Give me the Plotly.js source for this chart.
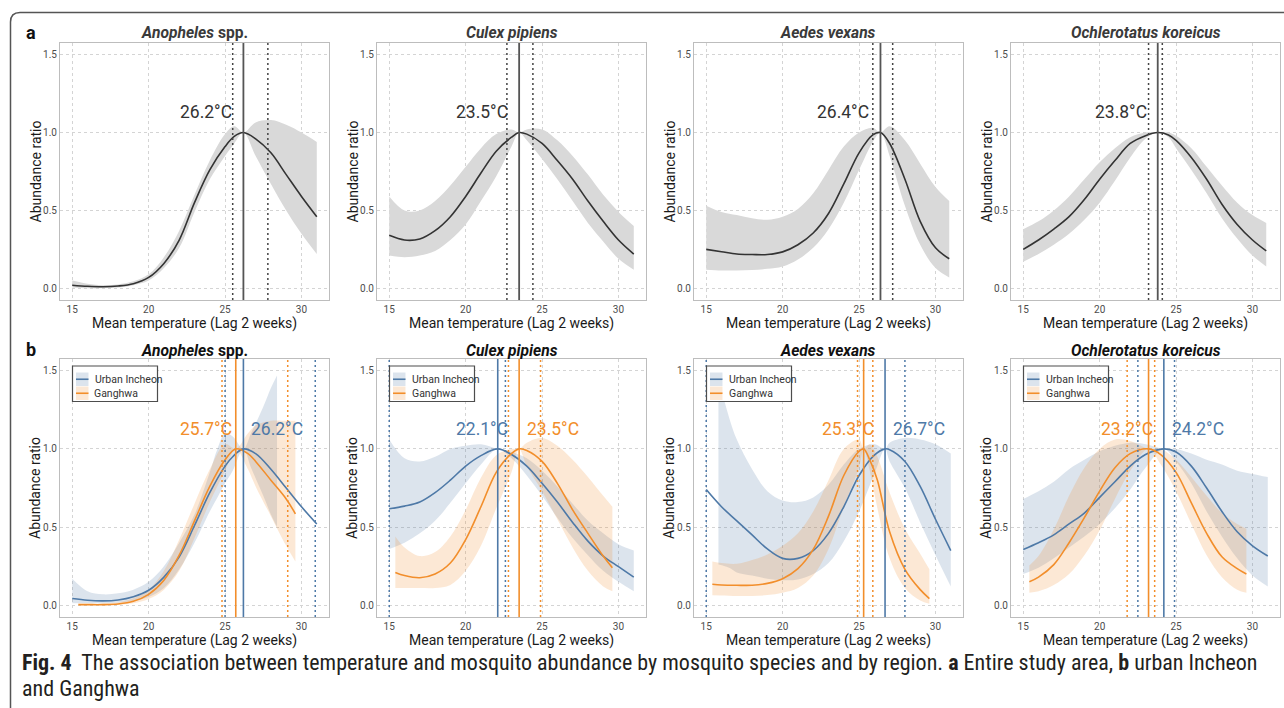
<!DOCTYPE html>
<html><head><meta charset="utf-8">
<script src="https://cdn.plot.ly/plotly-3.0.1.min.js"></script>
<style>body{margin:0;background:#fff}</style>
</head><body><div id="chart" style="width:1284px;height:708px"></div>
<script>
// ---------------- DATA ----------------
const tempTicks = [15, 20, 25, 30];
const ratioTicks = [0, 0.5, 1, 1.5];
const ratioTickText = ['0.0', '0.5', '1.0', '1.5'];
const speciesTitles = ['<b><i>Anopheles</i> spp.</b>', '<b><i>Culex pipiens</i></b>', '<b><i>Aedes vexans</i></b>', '<b><i>Ochlerotatus koreicus</i></b>'];
const regionNames = ['Urban Incheon', 'Ganghwa'];
const xTitle = 'Mean temperature (Lag 2 weeks)';
const yTitle = 'Abundance ratio';

// (a) entire study area
const anoAllX   = [15,16,17,18,19,20,21,22,23,24,25,25.6,26.2,27,28,29,30,31];
const anoAllFit = [0.02,0.013,0.01,0.015,0.03,0.07,0.16,0.31,0.55,0.76,0.91,0.975,1.0,0.96,0.87,0.73,0.59,0.46];
const anoAllHi  = [0.05,0.03,0.02,0.025,0.045,0.09,0.2,0.37,0.6,0.82,0.99,1.04,1.0,1.065,1.08,1.05,1.0,0.94];
const anoAllLo  = [0.005,0.0,0.0,0.005,0.02,0.05,0.13,0.26,0.49,0.7,0.85,0.93,1.0,0.85,0.67,0.5,0.35,0.22];
const anoAllOpt = 26.2, anoAllCI = [25.5, 27.8];

const culAllX   = [15,16,17,18,19,20,21,22,23,23.5,24,25,26,27,28,29,30,31];
const culAllFit = [0.34,0.31,0.317,0.37,0.46,0.59,0.74,0.88,0.97,1.0,0.99,0.93,0.82,0.70,0.56,0.43,0.31,0.22];
const culAllHi  = [0.59,0.50,0.50,0.56,0.66,0.78,0.90,0.99,1.02,1.0,1.02,1.02,0.95,0.85,0.73,0.60,0.49,0.40];
const culAllLo  = [0.21,0.20,0.21,0.24,0.31,0.41,0.56,0.72,0.91,1.0,0.95,0.83,0.70,0.56,0.42,0.30,0.19,0.12];
const culAllOpt = 23.5, culAllCI = [22.7, 24.4];

const aedAllX   = [15,16,17,18,19,20,21,22,23,24,25,25.9,26.4,27,28,29,30,30.9];
const aedAllFit = [0.25,0.235,0.22,0.217,0.217,0.234,0.28,0.355,0.48,0.67,0.87,0.985,1.0,0.93,0.70,0.43,0.26,0.19];
const aedAllHi  = [0.53,0.49,0.47,0.45,0.44,0.46,0.51,0.61,0.76,0.91,1.0,1.03,1.0,1.04,0.95,0.80,0.65,0.56];
const aedAllLo  = [0.12,0.115,0.115,0.117,0.125,0.14,0.185,0.26,0.38,0.55,0.76,0.94,1.0,0.85,0.53,0.28,0.13,0.07];
const aedAllOpt = 26.4, aedAllCI = [25.9, 27.2];

const ochAllX   = [15,16,17,18,19,20,21,22,23,23.8,24.5,25,26,27,28,29,30,30.9];
const ochAllFit = [0.25,0.31,0.38,0.46,0.57,0.70,0.82,0.93,0.98,1.0,0.985,0.95,0.84,0.70,0.54,0.41,0.31,0.24];
const ochAllHi  = [0.38,0.43,0.50,0.59,0.70,0.81,0.90,0.97,1.0,1.0,1.0,0.98,0.90,0.78,0.66,0.55,0.47,0.42];
const ochAllLo  = [0.17,0.22,0.28,0.35,0.44,0.55,0.69,0.84,0.96,1.0,0.97,0.90,0.76,0.61,0.45,0.32,0.21,0.14];
const ochAllOpt = 23.8, ochAllCI = [23.2, 24.1];

// (b) urban Incheon (U) and Ganghwa (G)
const anoUX    = [15,16,17,18,19,20,21,22,23,24,25,25.5,26.2,27,28,29,30,31];
const anoUFit  = [0.043,0.032,0.028,0.034,0.055,0.096,0.18,0.31,0.51,0.72,0.89,0.95,1.0,0.97,0.87,0.75,0.63,0.52];
const anoUBandX= [15,16,17,18,19,20,21,22,23,24,24.5,25,25.5,26.2,26.7,27.5,28,28.4];
const anoUHi   = [0.17,0.09,0.07,0.077,0.10,0.15,0.25,0.40,0.58,0.85,1.0,1.1,1.08,1.0,1.1,1.27,1.39,1.47];
const anoULo   = [0.013,0.013,0.013,0.017,0.028,0.053,0.11,0.23,0.40,0.60,0.69,0.78,0.86,1.0,0.88,0.70,0.58,0.5];
const anoUOpt = 26.2, anoUCI = [25.0, 30.9];
const anoGX    = [15.4,16,17,18,19,20,21,22,23,24,25,25.7,26.5,27,28,29,29.6];
const anoGFit  = [0.004,0.004,0.004,0.008,0.025,0.07,0.16,0.32,0.54,0.76,0.93,1.0,0.97,0.92,0.80,0.68,0.585];
const anoGHi   = [0.01,0.01,0.012,0.02,0.045,0.10,0.22,0.42,0.65,0.87,1.03,1.0,1.1,1.15,1.18,1.18,1.18];
const anoGLo   = [0.0,0.0,0.0,0.003,0.013,0.04,0.10,0.22,0.43,0.66,0.86,1.0,0.87,0.76,0.57,0.38,0.28];
const anoGOpt = 25.7, anoGCI = [24.8, 29.1];

const culUX    = [15,16,17,18,19,20,21,22.1,23,24,25,26,27,28,29,30,31];
const culUFit  = [0.617,0.634,0.66,0.72,0.80,0.89,0.957,1.0,0.964,0.89,0.78,0.66,0.53,0.41,0.315,0.247,0.18];
const culUHi   = [1.06,0.94,0.92,0.95,1.0,1.02,1.03,1.0,0.98,0.94,0.86,0.76,0.65,0.54,0.46,0.39,0.35];
const culULo   = [0.36,0.40,0.46,0.54,0.655,0.78,0.90,1.0,0.94,0.83,0.70,0.56,0.43,0.32,0.22,0.15,0.09];
const culUOpt = 22.1, culUCI = [15.0, 22.6];
const culGX    = [15.4,16,17,18,19,20,21,22,23,23.5,24,25,26,27,28,29,29.6];
const culGFit  = [0.21,0.19,0.176,0.20,0.27,0.42,0.63,0.85,0.97,1.0,0.99,0.92,0.78,0.61,0.46,0.315,0.24];
const culGHi   = [0.44,0.37,0.315,0.34,0.44,0.61,0.815,0.96,1.0,1.0,1.04,1.07,1.02,0.93,0.82,0.70,0.63];
const culGLo   = [0.11,0.11,0.11,0.11,0.13,0.22,0.38,0.62,0.85,1.0,0.89,0.73,0.55,0.37,0.22,0.12,0.09];
const culGOpt = 23.5, culGCI = [22.8, 24.9];

const aedUX    = [15,16,17,18,19,20,21,22,23,24,25,26,26.7,27,28,29,30,31];
const aedUFit  = [0.74,0.63,0.54,0.45,0.36,0.30,0.30,0.35,0.46,0.63,0.83,0.96,1.0,0.995,0.92,0.76,0.55,0.35];
const aedUBandX= [15.8,16.5,17,18,19,20,21,22,23,24,25,26,26.7,27,28,29,30,31];
const aedUHi   = [1.45,1.2,1.06,0.87,0.73,0.67,0.66,0.69,0.77,0.90,1.0,1.03,1.0,1.04,1.07,1.06,1.03,0.97];
const aedULo   = [0.26,0.24,0.21,0.19,0.17,0.16,0.165,0.2,0.27,0.41,0.60,0.84,1.0,0.92,0.75,0.53,0.32,0.12];
const aedUOpt = 26.7, aedUCI = [15.0, 28.0];
const aedGX    = [15.4,16,17,18,19,20,21,22,23,24,25,25.3,25.7,26.2,27,28,29,29.6];
const aedGFit  = [0.134,0.13,0.128,0.128,0.14,0.17,0.234,0.357,0.57,0.83,0.985,1.0,0.93,0.80,0.47,0.23,0.10,0.043];
const aedGHi   = [0.28,0.27,0.265,0.29,0.325,0.38,0.46,0.60,0.80,1.0,1.06,1.0,1.03,0.95,0.72,0.49,0.33,0.23];
const aedGLo   = [0.064,0.063,0.06,0.06,0.065,0.08,0.11,0.19,0.36,0.63,0.88,1.0,0.86,0.62,0.30,0.11,0.03,0.01];
const aedGOpt = 25.3, aedGCI = [24.9, 25.9];

const ochUX    = [15,16,17,18,19,20,21,22,23,24.2,25,26,27,28,29,30,31];
const ochUFit  = [0.357,0.40,0.45,0.52,0.59,0.69,0.79,0.89,0.964,1.0,0.98,0.89,0.75,0.60,0.47,0.38,0.315];
const ochUHi   = [0.68,0.73,0.79,0.87,0.93,0.985,1.02,1.04,1.03,1.0,1.0,0.97,0.93,0.90,0.86,0.84,0.82];
const ochULo   = [0.20,0.24,0.30,0.37,0.44,0.52,0.62,0.74,0.88,1.0,0.92,0.78,0.60,0.44,0.30,0.19,0.12];
const ochUOpt = 24.2, ochUCI = [22.5, 24.9];
const ochGX    = [15.4,16,17,18,19,20,21,22,23.2,24,25,26,27,28,29,29.6];
const ochGFit  = [0.15,0.18,0.26,0.40,0.56,0.73,0.88,0.97,1.0,0.964,0.85,0.655,0.46,0.31,0.234,0.20];
const ochGHi   = [0.255,0.315,0.485,0.70,0.88,1.0,1.06,1.05,1.0,1.0,0.93,0.82,0.70,0.59,0.52,0.49];
const ochGLo   = [0.08,0.09,0.13,0.20,0.32,0.48,0.68,0.86,1.0,0.9,0.73,0.52,0.32,0.18,0.10,0.08];
const ochGOpt = 23.2, ochGCI = [21.8, 23.6];

// ---------------- BUILD ----------------
const W = 1284, H = 708;
const px = v => v / W, py = v => 1 - v / H;
const colsPx = [[60, 329], [377, 646], [694, 963], [1011, 1280]];
const rowsPx = [[43, 300], [359, 617]];
const BLUE = '#4e79a7', ORANGE = '#f28e2b';
const BLUE_F = 'rgba(78,121,167,0.2)', ORANGE_F = 'rgba(242,142,43,0.2)';
const FONT = 'Roboto, Arial, sans-serif';

const topPanels = [
  {x: anoAllX, fit: anoAllFit, hi: anoAllHi, lo: anoAllLo, opt: anoAllOpt, ci: anoAllCI},
  {x: culAllX, fit: culAllFit, hi: culAllHi, lo: culAllLo, opt: culAllOpt, ci: culAllCI},
  {x: aedAllX, fit: aedAllFit, hi: aedAllHi, lo: aedAllLo, opt: aedAllOpt, ci: aedAllCI},
  {x: ochAllX, fit: ochAllFit, hi: ochAllHi, lo: ochAllLo, opt: ochAllOpt, ci: ochAllCI}
];
const botPanels = [
  {U: {x: anoUX, fit: anoUFit, bx: anoUBandX, hi: anoUHi, lo: anoULo, opt: anoUOpt, ci: anoUCI},
   G: {x: anoGX, fit: anoGFit, bx: anoGX, hi: anoGHi, lo: anoGLo, opt: anoGOpt, ci: anoGCI}},
  {U: {x: culUX, fit: culUFit, bx: culUX, hi: culUHi, lo: culULo, opt: culUOpt, ci: culUCI},
   G: {x: culGX, fit: culGFit, bx: culGX, hi: culGHi, lo: culGLo, opt: culGOpt, ci: culGCI}},
  {U: {x: aedUX, fit: aedUFit, bx: aedUBandX, hi: aedUHi, lo: aedULo, opt: aedUOpt, ci: aedUCI},
   G: {x: aedGX, fit: aedGFit, bx: aedGX, hi: aedGHi, lo: aedGLo, opt: aedGOpt, ci: aedGCI}},
  {U: {x: ochUX, fit: ochUFit, bx: ochUX, hi: ochUHi, lo: ochULo, opt: ochUOpt, ci: ochUCI},
   G: {x: ochGX, fit: ochGFit, bx: ochGX, hi: ochGHi, lo: ochGLo, opt: ochGOpt, ci: ochGCI}}
];

const traces = [];
const layout = {
  width: W, height: H, margin: {l: 0, r: 0, t: 0, b: 0},
  paper_bgcolor: '#fff', plot_bgcolor: '#fff', showlegend: false,
  font: {family: FONT, color: '#333'}, shapes: [], annotations: []
};
const sfx = n => n === 1 ? '' : String(n);

function axes(n, col, row) {
  const [l, r] = colsPx[col], [t, b] = rowsPx[row];
  const common = {
    showgrid: true, gridcolor: '#d4d4d4', griddash: '3px,3px', gridwidth: 1,
    zeroline: false, showline: true, mirror: true, linecolor: '#bdbdbd', linewidth: 1,
    ticks: '', tickfont: {family: FONT, size: 10, color: '#4d4d4d'}, fixedrange: true
  };
  layout['xaxis' + sfx(n)] = Object.assign({
    domain: [px(l), px(r)], range: [14.2, 31.8], anchor: 'y' + sfx(n), tickvals: tempTicks
  }, common);
  layout['yaxis' + sfx(n)] = Object.assign({
    domain: [py(b), py(t)], range: [-0.075, 1.575], anchor: 'x' + sfx(n),
    tickvals: ratioTicks, ticktext: ratioTickText
  }, common);
  // axis titles
  layout.annotations.push({xref: 'paper', yref: 'paper', x: px((l + r) / 2), y: py(b + 23.5),
    xanchor: 'center', yanchor: 'middle', showarrow: false, text: xTitle,
    font: {family: FONT, size: 14, color: '#1a1a1a'}});
  layout.annotations.push({xref: 'paper', yref: 'paper', x: px(l - 25), y: py((t + b) / 2),
    xanchor: 'center', yanchor: 'middle', showarrow: false, text: yTitle, textangle: -90,
    font: {family: FONT, size: 14, color: '#1a1a1a'}});
  // species title
  layout.annotations.push({
    xref: 'paper', yref: 'paper', x: px((l + r) / 2), y: py(row === 0 ? 33 : 351),
    xanchor: 'center', yanchor: 'middle', showarrow: false,
    text: speciesTitles[col], font: {family: FONT, size: 15.6, color: row === 0 ? '#3a3a3a' : '#111'}
  });
}

function band(n, bx, lo, hi, fill) {
  const xa = 'x' + sfx(n), ya = 'y' + sfx(n);
  traces.push({x: bx, y: lo, xaxis: xa, yaxis: ya, mode: 'lines', line: {width: 0, shape: 'spline', smoothing: 1}, hoverinfo: 'skip'});
  traces.push({x: bx, y: hi, xaxis: xa, yaxis: ya, mode: 'lines', line: {width: 0, shape: 'spline', smoothing: 1}, fill: 'tonexty', fillcolor: fill, hoverinfo: 'skip'});
}
function curve(n, x, y, color, name) {
  traces.push({x: x, y: y, name: name, xaxis: 'x' + sfx(n), yaxis: 'y' + sfx(n), mode: 'lines', line: {color: color, width: 1.6, shape: 'spline', smoothing: 1}});
}
function vline(n, v, color, dash, width) {
  layout.shapes.push({type: 'line', xref: 'x' + sfx(n), yref: 'y' + sfx(n) + ' domain', x0: v, x1: v, y0: 0, y1: 1,
    line: {color: color, width: width, dash: dash}, layer: 'above'});
}
function label(n, xv, text, color, side) {
  layout.annotations.push({xref: 'x' + sfx(n), yref: 'y' + sfx(n), x: xv, y: 1.13, text: text, showarrow: false,
    xanchor: side, yanchor: 'middle', xshift: side === 'right' ? -9 : 6, font: {family: FONT, size: 17.5, color: color}});
}

// top row
topPanels.forEach((p, i) => {
  const n = i + 1;
  axes(n, i, 0);
  band(n, p.x, p.lo, p.hi, '#d9d9d9');
  curve(n, p.x, p.fit, '#333333', 'Entire study area');
  vline(n, p.ci[0], '#444', '2px,3px', 1.5);
  vline(n, p.ci[1], '#444', '2px,3px', 1.5);
  vline(n, p.opt, '#555', 'solid', 1.8);
  label(n, p.opt, p.opt.toFixed(1) + '°C', '#333', 'right');
});

// bottom row
botPanels.forEach((p, i) => {
  const n = i + 5;
  axes(n, i, 1);
  band(n, p.U.bx, p.U.lo, p.U.hi, BLUE_F);
  band(n, p.G.bx, p.G.lo, p.G.hi, ORANGE_F);
  curve(n, p.U.x, p.U.fit, BLUE, regionNames[0]);
  curve(n, p.G.x, p.G.fit, ORANGE, regionNames[1]);
  [[p.U, BLUE], [p.G, ORANGE]].forEach(([s, c]) => {
    vline(n, s.ci[0], c, '2px,3px', 1.5);
    vline(n, s.ci[1], c, '2px,3px', 1.5);
    vline(n, s.opt, c, 'solid', 1.6);
  });
  const uHigher = p.U.opt > p.G.opt;
  const hiS = uHigher ? p.U : p.G, loS = uHigher ? p.G : p.U;
  const hiC = uHigher ? BLUE : ORANGE, loC = uHigher ? ORANGE : BLUE;
  label(n, hiS.opt, loS.opt.toFixed(1) + '°C', loC, 'right');
  label(n, hiS.opt, hiS.opt.toFixed(1) + '°C', hiC, 'left');

  // legend box (ggplot style)
  const bl = colsPx[i][0] + 12.5, bt = rowsPx[1][0] + 7, bw = 85, bh = 35.5;
  layout.shapes.push({type: 'rect', xref: 'paper', yref: 'paper', x0: px(bl), x1: px(bl + bw), y0: py(bt), y1: py(bt + bh),
    fillcolor: '#fff', line: {color: '#4d4d4d', width: 1.2}, layer: 'above'});
  [[BLUE, BLUE_F, 0], [ORANGE, ORANGE_F, 1]].forEach(([c, f, k]) => {
    const kt = bt + 6.5 + k * 14, kb = kt + 13.5;
    layout.shapes.push({type: 'rect', xref: 'paper', yref: 'paper', x0: px(bl + 3.5), x1: px(bl + 16), y0: py(kt), y1: py(kb),
      fillcolor: f, line: {width: 0}, layer: 'above'});
    layout.shapes.push({type: 'line', xref: 'paper', yref: 'paper', x0: px(bl + 3.5), x1: px(bl + 16), y0: py((kt + kb) / 2), y1: py((kt + kb) / 2),
      line: {color: c, width: 1.6}, layer: 'above'});
    layout.annotations.push({xref: 'paper', yref: 'paper', x: px(bl + 20), y: py((kt + kb) / 2), xanchor: 'left', yanchor: 'middle',
      showarrow: false, text: regionNames[k], font: {family: FONT, size: 10.5, color: '#333'}});
  });
});

// panel letters
layout.annotations.push({xref: 'paper', yref: 'paper', x: px(24), y: py(32), xanchor: 'left', yanchor: 'middle', showarrow: false,
  text: '<b>a</b>', font: {family: FONT, size: 18, color: '#111'}});
layout.annotations.push({xref: 'paper', yref: 'paper', x: px(24), y: py(350), xanchor: 'left', yanchor: 'middle', showarrow: false,
  text: '<b>b</b>', font: {family: FONT, size: 18, color: '#111'}});

// caption
const CAP_FONT = 'Liberation Sans Narrow, Roboto Condensed, DejaVu Sans Condensed, Roboto, sans-serif';
layout.annotations.push({xref: 'paper', yref: 'paper', x: px(20), y: py(662), xanchor: 'left', yanchor: 'middle', showarrow: false,
  text: '<b>Fig. 4</b>  The association between temperature and mosquito abundance by mosquito species and by region. <b>a</b> Entire study area, <b>b</b> urban Incheon',
  font: {family: CAP_FONT, size: 22, color: '#231f20'}});
layout.annotations.push({xref: 'paper', yref: 'paper', x: px(20), y: py(688), xanchor: 'left', yanchor: 'middle', showarrow: false,
  text: 'and Ganghwa', font: {family: CAP_FONT, size: 22, color: '#231f20'}});

// outer rounded frame
const P = (x, y) => px(x) + ',' + py(y);
layout.shapes.push({type: 'path', xref: 'paper', yref: 'paper',
  path: 'M' + P(10.5, 730) + ' L' + P(10.5, 22) + ' Q' + P(10.5, 12.5) + ' ' + P(20, 12.5) + ' L' + P(1320, 12.5),
  line: {color: '#555', width: 1.5}, layer: 'above'});

Plotly.newPlot('chart', traces, layout, {displayModeBar: false, staticPlot: true});
</script></body></html>
